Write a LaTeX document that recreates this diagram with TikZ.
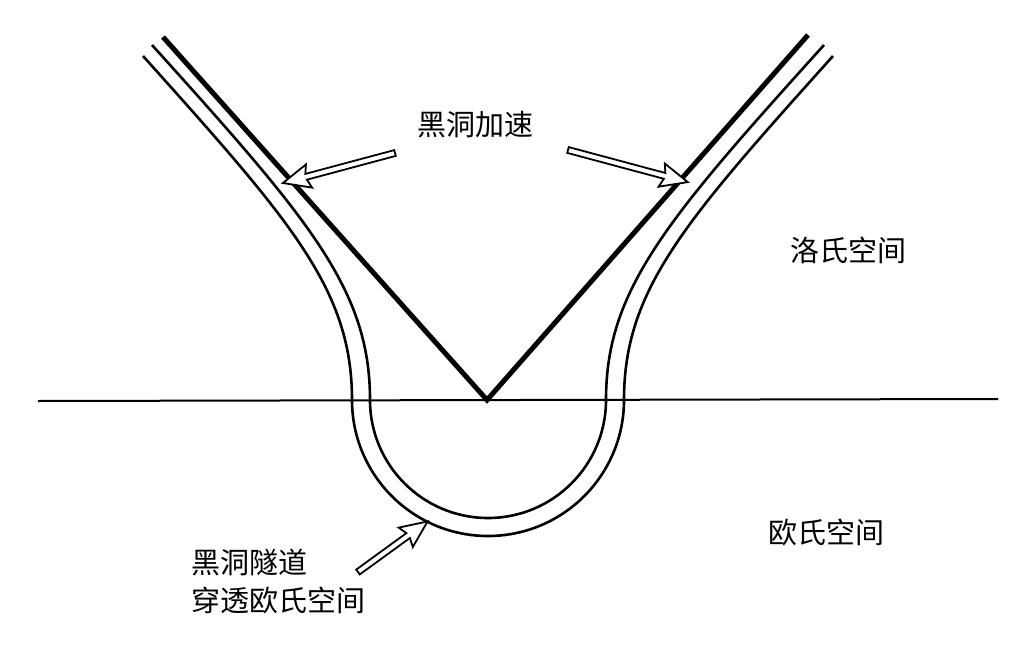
\documentclass[tikz,border=0pt]{standalone}
\usepackage{fontspec}
\newfontfamily\cjk{Noto Sans CJK SC}
\tikzset{
  thin line/.style={line width=2.6pt},
  vline/.style={line width=5pt},
  lbl/.style={font=\cjk\fontsize{29}{38}\selectfont, align=left},
  pics/harrow/.style={code={\draw[line width=1.8pt,fill=white,line join=miter]
    (0,-3) -- (#1-24,-3) -- (#1-27,-12) -- (#1,0) -- (#1-27,12) -- (#1-24,3) -- (0,3) -- cycle;}}
}
\begin{document}
\begin{tikzpicture}[x=1pt,y=-1pt]
\useasboundingbox (0,0) rectangle (1018,653);
\fill[white] (0,0) rectangle (1018,653);
\draw[line width=2pt] (38,401) -- (998,399);
\coordinate (vl) at (163,37);
\coordinate (vb) at (487,400);
\coordinate (vr) at (808,35);
\draw[vline] (vl) -- (vb) -- (vr);
% tube
\draw[thin line] (152,45) .. controls (310,220) and (370,290) .. (370,400)
  arc[start angle=180,end angle=0,radius=118] .. controls (606,290) and (666,220) .. (824,45);
\draw[thin line] (143,56) .. controls (292,222) and (352,290) .. (352,400)
  arc[start angle=180,end angle=0,radius=136] .. controls (624,290) and (684,222) .. (833,56);
\pic[rotate=195] at (395,153) {harrow=116};
\pic[rotate=-15] at (568,150) {harrow=124};
\pic[rotate=36] at (358,572) {harrow=86};
\node[lbl] (t1) at (475,125) {黑洞加速};
\node[lbl] (t2) at (848,250) {洛氏空间};
\node[lbl] (t3) at (826,532) {欧氏空间};
\node[lbl,anchor=north west] (t4) at (188,545) {黑洞隧道\\穿透欧氏空间};
\end{tikzpicture}
\end{document}
